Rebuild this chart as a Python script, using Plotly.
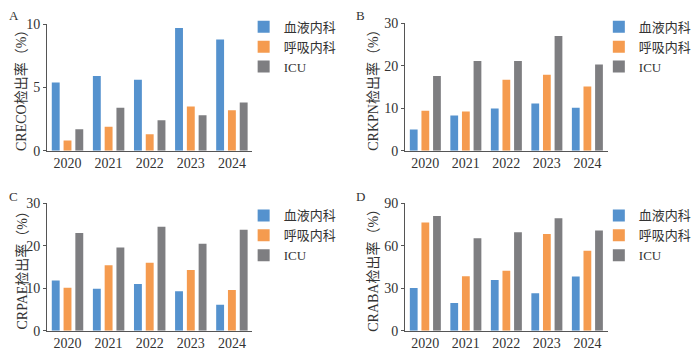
import plotly.graph_objects as go

years = ["2020", "2021", "2022", "2023", "2024"]
series_names = ["血液内科", "呼吸内科", "ICU"]
colors = ["#5592CE", "#F59B4F", "#7E7E81"]

creco_blood = [5.4, 5.9, 5.6, 9.7, 8.8]
creco_resp = [0.8, 1.9, 1.3, 3.5, 3.2]
creco_icu = [1.7, 3.4, 2.4, 2.8, 3.8]

crkpn_blood = [5.0, 8.3, 9.9, 11.1, 10.1]
crkpn_resp = [9.4, 9.2, 16.7, 17.9, 15.1]
crkpn_icu = [17.6, 21.1, 21.1, 27.0, 20.3]

crpae_blood = [11.8, 9.9, 11.0, 9.3, 6.1]
crpae_resp = [10.1, 15.4, 16.0, 14.3, 9.6]
crpae_icu = [23.0, 19.6, 24.5, 20.5, 23.8]

craba_blood = [30.2, 19.5, 35.8, 26.5, 38.3]
craba_resp = [76.4, 38.5, 42.4, 68.3, 56.5]
craba_icu = [81.0, 65.3, 69.6, 79.4, 70.7]

panels = [
    ("A", "CRECO检出率（%）", [creco_blood, creco_resp, creco_icu], [0, 10], [0, 5, 10]),
    ("B", "CRKPN检出率（%）", [crkpn_blood, crkpn_resp, crkpn_icu], [0, 30], [0, 10, 20, 30]),
    ("C", "CRPAE检出率（%）", [crpae_blood, crpae_resp, crpae_icu], [0, 30], [0, 10, 20, 30]),
    ("D", "CRABA检出率（%）", [craba_blood, craba_resp, craba_icu], [0, 90], [0, 30, 60, 90]),
]

W, H = 697, 354
FONT = "Liberation Serif, Noto Sans CJK SC, serif"
TXT = "#333333"
# pixel boxes: (left, right, top, bottom)
boxes = [(48, 258, 18, 150), (414, 621, 17, 150), (48, 258, 205, 338), (414, 621, 205, 338)]
legend_pos = [(249, 5), (612, 5), (249, 202), (612, 202)]
letter_pos = [(7, 9), (362, 9), (7, 198), (362, 198)]
title_x = [22, 381, 22, 381]

fig = go.Figure()
layout = dict(
    width=W, height=H, margin=dict(l=0, r=0, t=0, b=0),
    paper_bgcolor="white", plot_bgcolor="white",
    font=dict(family=FONT, size=14, color=TXT),
    barmode="group", bargap=0.14, bargroupgap=0.33,
    annotations=[],
)

for i, (letter, title, data, yr, ticks) in enumerate(panels):
    n = i + 1
    xa = "x" if n == 1 else f"x{n}"
    ya = "y" if n == 1 else f"y{n}"
    lg = "legend" if n == 1 else f"legend{n}"
    for s, name, col in zip(data, series_names, colors):
        fig.add_trace(go.Bar(x=years, y=s, name=name, marker=dict(color=col, line=dict(width=0)),
                             xaxis=xa, yaxis=ya, legend=lg))
    l, r, t, b = boxes[i]
    xkey = "xaxis" if n == 1 else f"xaxis{n}"
    ykey = "yaxis" if n == 1 else f"yaxis{n}"
    layout[xkey] = dict(domain=[l / W, r / W], anchor=ya, showline=True, linecolor="#555555",
                        linewidth=1, ticks="", showgrid=False, range=[-0.5, 4.5],
                        tickfont=dict(size=14, family=FONT, color=TXT), fixedrange=True)
    layout[ykey] = dict(domain=[(H - b) / H, (H - t) / H], anchor=xa, showline=True,
                        linecolor="#555555", linewidth=1, ticks="outside", ticklen=3,
                        tickcolor="#555555", showgrid=False, zeroline=False, range=yr,
                        tickvals=ticks, tickfont=dict(size=14, family=FONT, color=TXT))
    lx, ly = legend_pos[i]
    layout[lg] = dict(x=lx / W, y=(H - ly) / H, xanchor="left", yanchor="top",
                      bgcolor="rgba(0,0,0,0)", font=dict(size=13, family=FONT, color=TXT),
                      tracegroupgap=0, itemwidth=30)
    px, py = letter_pos[i]
    layout["annotations"].append(dict(text=letter, x=px / W, y=(H - py) / H, xref="paper",
                                      yref="paper", xanchor="left", yanchor="middle",
                                      showarrow=False, font=dict(size=13, family=FONT, color=TXT)))
    layout["annotations"].append(dict(text=title, textangle=-90, x=title_x[i] / W,
                                      y=(H - (t + b) / 2) / H, xref="paper", yref="paper",
                                      xanchor="center", yanchor="middle", showarrow=False,
                                      font=dict(size=14, family=FONT, color=TXT)))

fig.update_layout(**layout)
fig.write_html("out.html")
